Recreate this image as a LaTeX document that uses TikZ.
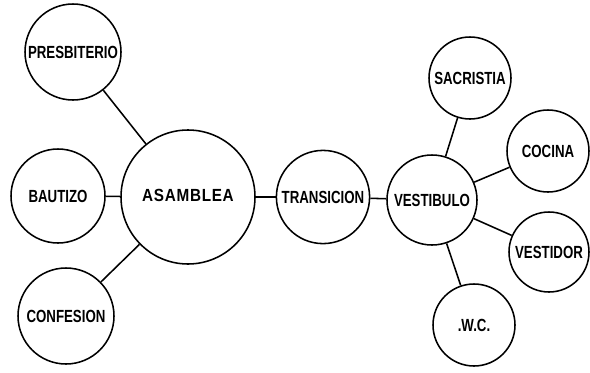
\documentclass[tikz,border=0pt]{standalone}
\usepackage{fontspec}
\setmainfont[FakeStretch=0.755]{Liberation Sans}
\newfontfamily\asamfont[FakeStretch=0.87,LetterSpace=4]{Liberation Sans}
\tikzset{
  sala/.style={circle, draw, line width=1.1pt, minimum size=#1, inner sep=0pt,
    font=\fontsize{12.5}{13}\selectfont\bfseries},
  enlace/.style={line width=1.1pt}
}
\begin{document}
\begin{tikzpicture}
   \useasboundingbox (0,0) rectangle (14.75,-9.325);
   % zona de asamblea
   \node[sala=3.35cm] (asamblea) at (4.7,-4.925) {\asamfont\bfseries\raisebox{2pt}{ASAMBLEA}};
   \node[sala=2.4cm] (presbiterio) at (1.825,-1.3) {PRESBITERIO};
   \node[sala=2.35cm] (bautizo) at (1.45,-4.9) {BAUTIZO};
   \node[sala=2.4cm] (confesion) at (1.65,-7.9) {CONFESION};
   \node[sala=2.33cm] (transicion) at (8.075,-4.925) {TRANSICION};
   % zona de servicio
   \node[sala=2.25cm] (vestibulo) at (10.8,-5.0) {VESTIBULO};
   \node[sala=2.05cm] (sacristia) at (11.75,-1.95) {SACRISTIA};
   \node[sala=2.05cm] (cocina) at (13.7,-3.775) {COCINA};
   \node[sala=2.0cm] (vestidor) at (13.725,-6.3) {VESTIDOR};
   \node[sala=2.05cm] (wc) at (11.85,-8.125) {.W.C.};

   \draw[enlace] (presbiterio) -- (asamblea);
   \draw[enlace] (bautizo) -- (asamblea);
   \draw[enlace] (confesion) -- (asamblea);
   \draw[enlace] (asamblea) -- (transicion);
   \draw[enlace] (transicion) -- (vestibulo);
   \draw[enlace] (vestibulo) -- (sacristia);
   \draw[enlace] (vestibulo) -- (cocina);
   \draw[enlace] (vestibulo) -- (vestidor);
   \draw[enlace] (vestibulo) -- (wc);
\end{tikzpicture}
\end{document}
